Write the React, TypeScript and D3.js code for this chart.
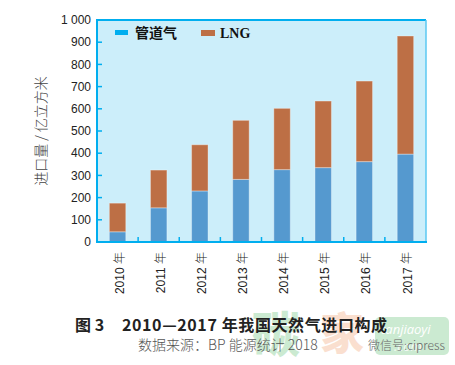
import React from "react";
import * as d3 from "d3";

const years = ["2010", "2011", "2012", "2013", "2014", "2015", "2016", "2017"];
const pipeline = [46, 154, 230, 282, 326, 335, 362, 396];
const lng = [129, 170, 208, 266, 276, 300, 363, 532];
const yTicks = [0, 100, 200, 300, 400, 500, 600, 700, 800, 900, 1000];
const seriesNames = ["管道气", "LNG"];

const W = 455;
const H = 365;
const left = 97;
const right = 426;
const top = 20;
const bottom = 242;

export default function App() {
  const x = d3.scaleBand<string>().domain(years).range([left, right]).paddingInner(0.6).paddingOuter(0.3);
  const y = d3.scaleLinear().domain([0, 1000]).range([bottom, top]);
  const data = years.map((yr, i) => ({ yr, p: pipeline[i], l: lng[i] }));
  const stack = d3.stack<any>().keys(["p", "l"])(data as any);
  const colors = ["#5599CF", "#BD6F45"];
  const legendColors = ["#00AEEF", "#BD6F45"];
  const num = "'Liberation Sans', Arial, sans-serif";
  const cjk = "'Noto Sans CJK SC', sans-serif";
  const fmt = (v: number) => (v >= 1000 ? "1 000" : String(v));
  const boundaries = d3.range(1, years.length).map((i) => left + (right - left) / years.length * i);

  return (
    <svg width={W} height={H} style={{ position: "absolute", left: 0, top: 0, background: "#fff" }}>
      <rect x={left} y={top} width={right - left} height={bottom - top} fill="#CCEEFA" />
      {stack.map((s, si) =>
        s.map((d, i) => (
          <rect
            key={si + "-" + i}
            x={x(years[i])}
            y={y(d[1])}
            width={x.bandwidth()}
            height={y(d[0]) - y(d[1])}
            fill={colors[si]}
            stroke="rgba(255,255,255,0.35)"
            strokeWidth={1}
          />
        ))
      )}
      {/* frame */}
      <line x1={left} x2={right} y1={top} y2={top} stroke="#00AEEF" strokeWidth={2} />
      <line x1={right} x2={right} y1={top} y2={bottom} stroke="#5BC8F2" strokeWidth={1.5} />
      <line x1={left} x2={left} y1={top - 1} y2={bottom + 1} stroke="#00AEEF" strokeWidth={2} />
      <line x1={left - 1} x2={right + 1} y1={bottom} y2={bottom} stroke="#00AEEF" strokeWidth={2} />
      {yTicks.map((t) => (
        <g key={t}>
          {t > 0 && t < 1000 && (
            <line x1={left} x2={left + 5} y1={y(t)} y2={y(t)} stroke="#00AEEF" strokeWidth={1.5} />
          )}
          <text x={91} y={y(t)} dy="0.35em" textAnchor="end" fontFamily={num} fontSize={12} fill="#222">
            {fmt(t)}
          </text>
        </g>
      ))}
      {boundaries.map((bx, i) => (
        <line key={i} x1={bx} x2={bx} y1={bottom} y2={bottom - 5} stroke="#00AEEF" strokeWidth={1.5} />
      ))}
      {years.map((yr) => {
        const cx = (x(yr) as number) + x.bandwidth() / 2 + 3;
        return (
          <text
            key={yr}
            transform={`translate(${cx},252) rotate(-90)`}
            textAnchor="end"
            dominantBaseline="middle"
            fontFamily={num}
            fontSize={12}
            fill="#222"
          >
            {yr} <tspan fontFamily={cjk} fontWeight={300}>年</tspan>
          </text>
        );
      })}
      <text
        transform="translate(42,131) rotate(-90)"
        textAnchor="middle"
        dominantBaseline="middle"
        fontFamily={cjk}
        fontWeight={300}
        fontSize={14}
        fill="#444"
      >
        进口量 / 亿立方米
      </text>
      {/* legend */}
      <rect x={115} y={30} width={13} height={5} fill={legendColors[0]} />
      <text x={135} y={33} dy="0.35em" fontFamily={cjk} fontWeight={700} fontSize={14} fill="#111">
        {seriesNames[0]}
      </text>
      <rect x={201} y={30} width={14} height={6} fill={legendColors[1]} />
      <text x={220} y={33} dy="0.35em" fontFamily="'Liberation Serif', serif" fontWeight={700} fontSize={14} fill="#111">
        {seriesNames[1]}
      </text>
      {/* watermark */}
      <g opacity={0.4}>
        <text x={252} y={352} fontFamily={cjk} fontWeight={900} fontSize={48} fill="#7FCB8F">碳</text>
        <text x={320} y={350} fontFamily={cjk} fontWeight={900} fontSize={44} fill="#F3B08A">家</text>
        <rect x={375} y={317} width={74} height={38} rx={5} fill="#7FCB8F" />
      </g>
      <text x={381} y={334} fontFamily="'Open Sans', sans-serif" fontStyle="italic" fontSize={13} fill="#fff">tanjiaoyi</text>
      <text x={394} y={351} fontFamily="'Open Sans', sans-serif" fontStyle="italic" fontSize={13} fill="#fff" opacity={0.8}>.com</text>
      {/* captions */}
      <text x={75} y={331} fontFamily={cjk} fontWeight={700} fontSize={16} fill="#222">图 3</text>
      <text x={122} y={331} fontFamily={cjk} fontWeight={700} fontSize={16} letterSpacing={0.6} fill="#222">
        2010—2017 年我国天然气进口构成
      </text>
      <text x={138} y={350} fontFamily={cjk} fontWeight={300} fontSize={14} fill="#555">
        数据来源：BP 能源统计 2018
      </text>
      <text x={368} y={350} fontFamily={cjk} fontWeight={300} fontSize={12} fill="#666">
        微信号:cipress
      </text>
    </svg>
  );
}
